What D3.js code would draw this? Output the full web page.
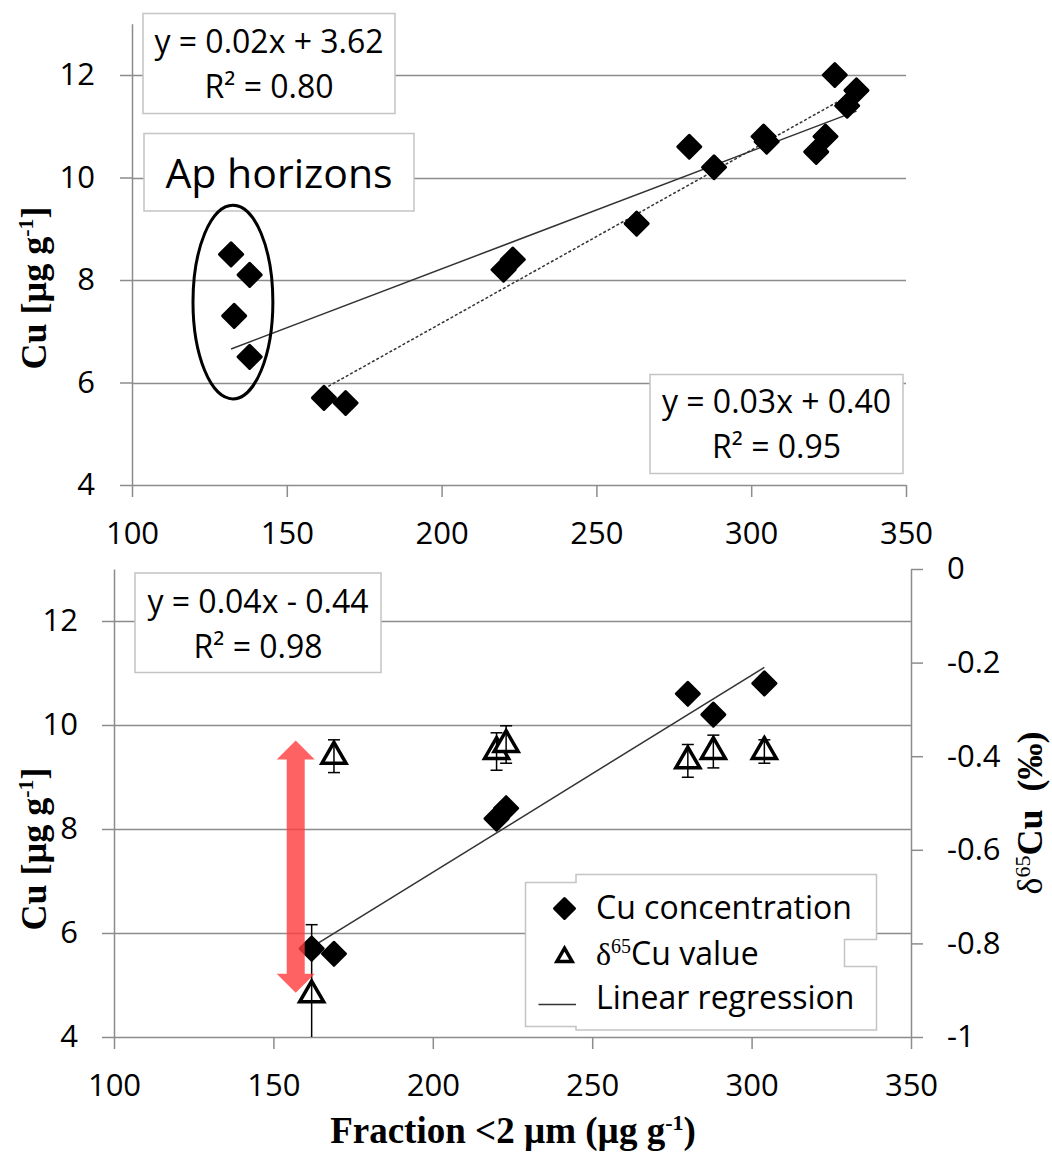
<!DOCTYPE html>
<html>
<head>
<meta charset="utf-8">
<script src="https://cdn.jsdelivr.net/npm/d3@7"></script>
<style>
  body { margin: 0; background: #fff; }
</style>
</head>
<body>
<script>
// ---- data ----
// top panel: Ap horizons (plough layer) and subsoil horizons
const apFraction = [132, 138, 133, 138];
const apCu = [8.5, 8.1, 7.3, 6.5];
const subFraction = [162, 169, 220, 223, 263, 280, 288, 304, 305, 321, 324, 327, 331, 334];
const subCu = [5.7, 5.6, 8.2, 8.4, 9.1, 10.6, 10.2, 10.8, 10.7, 10.5, 10.8, 12.0, 11.4, 11.7];

// bottom panel: samples with isotope values
const isoFraction = [162, 169, 220, 223, 280, 288, 304];
const isoCu = [5.7, 5.6, 8.2, 8.4, 10.6, 10.2, 10.8];
const delta65 = [-0.91, -0.40, -0.39, -0.375, -0.41, -0.39, -0.39];
const delta65Err = [0.15, 0.035, 0.04, 0.04, 0.035, 0.035, 0.025];

const xTicks = [100, 150, 200, 250, 300, 350];
const cuTicks = [4, 6, 8, 10, 12];
const deltaTicks = [0, -0.2, -0.4, -0.6, -0.8, -1];

const eqTopAll = ['y = 0.02x + 3.62', 'R² = 0.80'];
const eqTopSub = ['y = 0.03x + 0.40', 'R² = 0.95'];
const eqBottom = ['y = 0.04x - 0.44', 'R² = 0.98'];
const legendLabels = ['Cu concentration', 'Cu value', 'Linear regression'];

// ---- setup ----
const W = 1052, H = 1161;
const sans = '"Open Sans", "Noto Sans", sans-serif';
const serif = '"Liberation Serif", "Times New Roman", serif';
const gridColor = '#8c8c8c';
const boxColor = '#c4c4c4';

const svg = d3.select('body').append('svg')
    .attr('width', W)
    .attr('height', H)
    .style('font-family', sans);

function linreg(xs, ys) {
    const mx = d3.mean(xs), my = d3.mean(ys);
    const sxy = d3.sum(xs, (x, i) => (x - mx) * (ys[i] - my));
    const sxx = d3.sum(xs, x => (x - mx) ** 2);
    const b = sxy / sxx, a = my - b * mx;
    const [x0, x1] = d3.extent(xs);
    return [[x0, a + b * x0], [x1, a + b * x1]];
}

function styleAxis(g) {
    g.attr('font-family', sans).attr('font-size', 31);
    g.selectAll('path.domain, .tick line').attr('stroke', gridColor).attr('stroke-width', 1.5);
    g.selectAll('.tick text').attr('fill', '#000');
}

const diamond = d3.symbol(d3.symbolSquare, 265);
function drawDiamonds(g, xs, ys, x, y) {
    g.selectAll(null)
        .data(xs)
        .join('path')
        .attr('d', diamond)
        .attr('transform', (d, i) => `translate(${x(d)},${y(ys[i])}) rotate(45)`)
        .attr('fill', '#000')
        .attr('stroke', '#000')
        .attr('stroke-width', 3)
        .attr('stroke-linejoin', 'round');
}

function textBox(g, x0, y0, w, h, lines, cx, baselines, size) {
    g.append('rect')
        .attr('x', x0).attr('y', y0).attr('width', w).attr('height', h)
        .attr('fill', '#fff').attr('stroke', boxColor).attr('stroke-width', 1.5);
    lines.forEach((s, i) => {
        g.append('text')
            .attr('x', cx).attr('y', baselines[i])
            .attr('text-anchor', 'middle')
            .style('font-size', size + 'px')
            .text(s);
    });
}

function gridlines(g, y, vals, x0, x1) {
    g.selectAll(null)
        .data(vals)
        .join('line')
        .attr('x1', x0).attr('x2', x1)
        .attr('y1', d => Math.round(y(d)) + 0.5).attr('y2', d => Math.round(y(d)) + 0.5)
        .attr('stroke', gridColor).attr('stroke-width', 1.5);
}

const line = d3.line();

// ================= TOP PANEL =================
const xT = d3.scaleLinear().domain([100, 350]).range([132, 906]);
const yT = d3.scaleLinear().domain([4, 13]).range([485, 23.75]);
const topPanel = svg.append('g');

gridlines(topPanel, yT, [6, 8, 10, 12], 132, 906);

topPanel.append('g')
    .attr('transform', `translate(${xT(100)},0)`)
    .call(d3.axisLeft(yT).tickValues(cuTicks).tickSize(12).tickSizeOuter(0).tickPadding(25))
    .call(styleAxis);
topPanel.append('g')
    .attr('transform', `translate(0,${yT(4)})`)
    .call(d3.axisBottom(xT).tickValues(xTicks).tickSize(12).tickSizeOuter(0).tickPadding(25))
    .call(styleAxis);

// y title
topPanel.append('text')
    .attr('transform', 'translate(46,288) rotate(-90)')
    .attr('text-anchor', 'middle')
    .style('font-family', serif).style('font-weight', 'bold').style('font-size', '36px')
    .call(t => {
        t.append('tspan').text('Cu [µg g');
        t.append('tspan').attr('dy', -13).style('font-size', '22px').text('-1');
        t.append('tspan').attr('dy', 13).text(']');
    });

// text boxes (drawn over gridlines)
textBox(topPanel, 143, 13.5, 252, 100, eqTopAll, 269, [53, 98], 32);
textBox(topPanel, 144, 133.5, 270, 77.5, ['Ap horizons'], 279, [188], 41);
textBox(topPanel, 650, 374.5, 253, 99, eqTopSub, 776.5, [413, 458], 32);

// regression lines
const allFraction = apFraction.concat(subFraction);
const allCu = apCu.concat(subCu);
topPanel.append('path')
    .attr('d', line(linreg(allFraction, allCu).map(([a, b]) => [xT(a), yT(b)])))
    .attr('stroke', '#333').attr('stroke-width', 1.5).attr('fill', 'none');
topPanel.append('path')
    .attr('d', line(linreg(subFraction, subCu).map(([a, b]) => [xT(a), yT(b)])))
    .attr('stroke', '#333').attr('stroke-width', 1.5).attr('stroke-dasharray', '3,2').attr('fill', 'none');

// Ap ellipse
topPanel.append('ellipse')
    .attr('cx', xT(132.6)).attr('cy', yT(7.57))
    .attr('rx', xT(145.5) - xT(132.6)).attr('ry', yT(7.57) - yT(9.46))
    .attr('fill', 'none').attr('stroke', '#000').attr('stroke-width', 3);

drawDiamonds(topPanel.append('g'), apFraction, apCu, xT, yT);
drawDiamonds(topPanel.append('g'), subFraction, subCu, xT, yT);

// ================= BOTTOM PANEL =================
const xB = d3.scaleLinear().domain([100, 350]).range([114, 911]);
const yL = d3.scaleLinear().domain([4, 13]).range([1037, 569]);
const yR = d3.scaleLinear().domain([-1, 0]).range([1037, 569]);
const bot = svg.append('g');

gridlines(bot, yL, [6, 8, 10, 12], 114, 911);

bot.append('g')
    .attr('transform', `translate(${xB(100)},0)`)
    .call(d3.axisLeft(yL).tickValues(cuTicks).tickSize(12).tickSizeOuter(0).tickPadding(24))
    .call(styleAxis);
bot.append('g')
    .attr('transform', `translate(${xB(350)},0)`)
    .call(d3.axisRight(yR).tickValues(deltaTicks).tickFormat(d => String(d)).tickSize(12).tickSizeOuter(0).tickPadding(24))
    .call(styleAxis);
bot.append('g')
    .attr('transform', `translate(0,${yL(4)})`)
    .call(d3.axisBottom(xB).tickValues(xTicks).tickSize(12).tickSizeOuter(0).tickPadding(25))
    .call(styleAxis);

// titles
bot.append('text')
    .attr('transform', 'translate(46,849) rotate(-90)')
    .attr('text-anchor', 'middle')
    .style('font-family', serif).style('font-weight', 'bold').style('font-size', '36px')
    .call(t => {
        t.append('tspan').text('Cu [µg g');
        t.append('tspan').attr('dy', -13).style('font-size', '22px').text('-1');
        t.append('tspan').attr('dy', 13).text(']');
    });
bot.append('text')
    .attr('transform', 'translate(1042,813) rotate(-90)')
    .attr('text-anchor', 'middle')
    .style('font-family', serif).style('font-weight', 'bold').style('font-size', '36px')
    .style('white-space', 'pre')
    .call(t => {
        t.append('tspan').style('font-weight', 'normal').text('δ');
        t.append('tspan').attr('dy', -12).style('font-size', '22px').style('font-weight', 'normal').text('65');
        t.append('tspan').attr('dy', 12).text('Cu  (‰)');
    });
bot.append('text')
    .attr('x', 513).attr('y', 1143)
    .attr('text-anchor', 'middle')
    .style('font-family', serif).style('font-weight', 'bold').style('font-size', '37px')
    .call(t => {
        t.append('tspan').text('Fraction <2 µm (µg g');
        t.append('tspan').attr('dy', -13).style('font-size', '22px').text('-1');
        t.append('tspan').attr('dy', 13).text(')');
    });

textBox(bot, 135, 573, 246, 99.5, eqBottom, 258, [613, 658], 32);

// regression line
bot.append('path')
    .attr('d', line(linreg(isoFraction, isoCu).map(([a, b]) => [xB(a), yL(b)])))
    .attr('stroke', '#333').attr('stroke-width', 1.5).attr('fill', 'none');

drawDiamonds(bot.append('g'), isoFraction, isoCu, xB, yL);

// triangles with error bars on the right axis
const tri = d3.symbol(d3.symbolTriangle, 250);
bot.append('g').selectAll('path')
    .data(isoFraction)
    .join('path')
    .attr('d', tri)
    .attr('transform', (d, i) => `translate(${xB(d)},${yR(delta65[i])})`)
    .attr('fill', '#fff').attr('stroke', '#000').attr('stroke-width', 3.5).attr('stroke-linejoin', 'miter');

const eb = bot.append('g').attr('stroke', '#000').attr('stroke-width', 1.5);
isoFraction.forEach((d, i) => {
    const hi = Math.min(0, delta65[i] + delta65Err[i]);
    const lo = Math.max(-1, delta65[i] - delta65Err[i]);
    const cx = xB(d);
    eb.append('line').attr('x1', cx).attr('x2', cx).attr('y1', yR(hi)).attr('y2', yR(lo));
    eb.append('line').attr('x1', cx - 6).attr('x2', cx + 6).attr('y1', yR(hi)).attr('y2', yR(hi));
    if (lo > -1) eb.append('line').attr('x1', cx - 6).attr('x2', cx + 6).attr('y1', yR(lo)).attr('y2', yR(lo));
});

// red double arrow
{
    const ax = xB(157), yTop = yL(9.7), yBot = yL(4.85);
    const sw = 9, hw = 19, hl = 19;
    const pts = [
        [ax, yTop], [ax + hw, yTop + hl], [ax + sw, yTop + hl], [ax + sw, yBot - hl],
        [ax + hw, yBot - hl], [ax, yBot], [ax - hw, yBot - hl], [ax - sw, yBot - hl],
        [ax - sw, yTop + hl], [ax - hw, yTop + hl]
    ];
    bot.append('path')
        .attr('d', line(pts) + 'Z')
        .attr('fill', '#ff3b3b').attr('opacity', 0.8);
}

// legend
{
    const lg = bot.append('g');
    const shape = [
        [576, 874.5], [876.5, 874.5], [876.5, 939.5], [844.5, 939.5], [844.5, 966.5],
        [876.5, 966.5], [876.5, 1030], [576, 1030], [576, 1026.5], [525.5, 1026.5],
        [525.5, 882.5], [576, 882.5]
    ];
    lg.append('path')
        .attr('d', line(shape) + 'Z')
        .attr('fill', '#fff').attr('stroke', boxColor).attr('stroke-width', 1.5);

    lg.append('path')
        .attr('d', d3.symbol(d3.symbolSquare, 200))
        .attr('transform', 'translate(564.5,908.5) rotate(45)')
        .attr('fill', '#000').attr('stroke', '#000').attr('stroke-width', 3).attr('stroke-linejoin', 'round');
    lg.append('path')
        .attr('d', d3.symbol(d3.symbolTriangle, 100))
        .attr('transform', 'translate(564.5,957)')
        .attr('fill', '#fff').attr('stroke', '#000').attr('stroke-width', 3.5);
    lg.append('line')
        .attr('x1', 538.5).attr('x2', 576).attr('y1', 1004.5).attr('y2', 1004.5)
        .attr('stroke', '#333').attr('stroke-width', 1.5);

    const ly = [919, 965, 1009];
    lg.append('text').attr('x', 596).attr('y', ly[0]).style('font-size', '32px').text(legendLabels[0]);
    lg.append('text').attr('x', 596).attr('y', ly[1]).style('font-size', '32px')
        .call(t => {
            t.append('tspan').style('font-family', serif).text('δ');
            t.append('tspan').attr('dy', -12).style('font-size', '20px').style('font-family', serif).text('65');
            t.append('tspan').attr('dy', 12).text(legendLabels[1]);
        });
    lg.append('text').attr('x', 596).attr('y', ly[2]).style('font-size', '32px').text(legendLabels[2]);
}
</script>
</body>
</html>
